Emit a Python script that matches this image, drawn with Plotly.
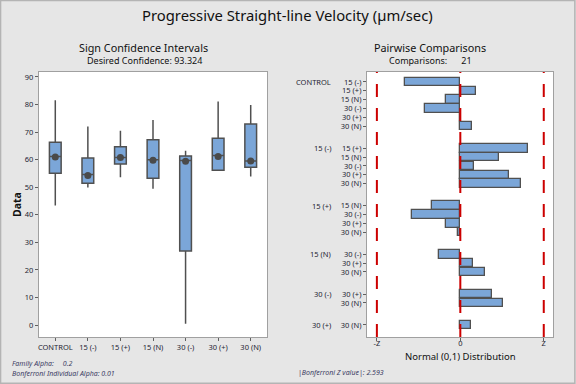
import plotly.graph_objects as go

# ---------------- data ----------------
groups = ["CONTROL", "15 (-)", "15 (+)", "15 (N)", "30 (-)", "30 (+)", "30 (N)"]

# Sign confidence intervals (left panel)
upper = [81.6, 72.0, 70.5, 74.4, 63.2, 81.1, 79.8]
q3 = [66.3, 60.6, 64.7, 67.2, 61.3, 67.8, 72.9]
median = [61.2, 54.6, 60.8, 60.0, 59.7, 61.5, 59.5]
q1 = [55.1, 51.5, 58.4, 53.3, 26.9, 56.2, 57.3]
lower = [43.4, 49.9, 53.6, 49.5, 0.5, 56.2, 53.9]
means = [61.0, 54.3, 60.8, 59.8, 59.4, 61.2, 59.5]

# Pairwise comparisons (right panel), pairs in order (i<j)
z_values = [
    -1.73, 0.475, -0.456, -1.11, -0.02, 0.36,   # CONTROL vs ...
    2.09, 1.19, 0.44, 1.51, 1.87,               # 15 (-) vs ...
    -0.88, -1.50, -0.46, -0.07,                 # 15 (+) vs ...
    -0.67, 0.38, 0.77,                          # 15 (N) vs ...
    0.97, 1.33,                                 # 30 (-) vs ...
    0.33,                                       # 30 (+) vs ...
]
bonf_z = 2.593
family_alpha = 0.2
indiv_alpha = 0.01
desired_conf = 93.324

W, H = 576, 384
BG = "#e6e6e6"
BOXFILL = "#7ba6d8"
EDGE = "#505050"
TXT = "#1e1e34"
RED = "#cc0000"
FONT = "Noto Sans"

def px(x):
    return x / W

def py(y):
    return 1 - y / H

fig = go.Figure()

# ---------------- left panel ----------------
fig.add_trace(go.Box(
    x=groups, q1=q1, median=median, q3=q3, lowerfence=lower, upperfence=upper,
    fillcolor=BOXFILL, line=dict(color=EDGE, width=1.5), whiskerwidth=0,
    width=0.36, boxpoints=False, xaxis="x", yaxis="y", showlegend=False,
    hoverinfo="skip",
))
fig.add_trace(go.Scatter(
    x=groups, y=means, mode="markers",
    marker=dict(symbol="circle", size=7, color="#4a4a4a",
                line=dict(color="#4a4a4a", width=0)),
    xaxis="x", yaxis="y", showlegend=False, hoverinfo="skip",
))

# ---------------- right panel ----------------
ypos, ticktext, group_first = [], [], []
k = 0.0
for i in range(len(groups)):
    first = True
    for j in range(i + 1, len(groups)):
        ypos.append(k)
        ticktext.append(groups[j])
        if first:
            group_first.append((groups[i], k))
            first = False
        k += 1
    k += 1.5
last_row = ypos[-1]

fig.add_trace(go.Bar(
    x=z_values, y=ypos, orientation="h", width=0.96,
    marker=dict(color=BOXFILL, line=dict(color=EDGE, width=1.3)),
    xaxis="x2", yaxis="y2", showlegend=False, hoverinfo="skip",
))

for xv in (-bonf_z, 0, bonf_z):
    fig.add_shape(type="line", xref="x2", yref="y2 domain", x0=xv, x1=xv, y0=0, y1=1,
                  line=dict(color=RED, width=2, dash="13px,11px"), layer="above")

for name, yv in group_first:
    fig.add_annotation(x=px(333), y=yv, xref="paper", yref="y2", text=name,
                       showarrow=False, xanchor="right", yanchor="middle",
                       font=dict(family=FONT, size=7.5, color=TXT))

dom_y = [py(337), py(72)]
tickf = dict(size=7.5, color=TXT)
fig.update_layout(
    width=W, height=H, margin=dict(l=0, r=0, t=0, b=0),
    paper_bgcolor=BG, plot_bgcolor="white",
    font=dict(family=FONT, color=TXT),
    xaxis=dict(domain=[px(39), px(267)], type="category", range=[-0.5, 6.5],
               showgrid=False, zeroline=False, showline=True, mirror=True,
               linecolor="#a0a0a0", linewidth=1.2, ticks="outside", ticklen=3,
               tickcolor="#606060", tickfont=tickf),
    yaxis=dict(domain=dom_y, range=[-4.3, 91.8], tickvals=list(range(0, 91, 10)),
               showgrid=False, zeroline=False, showline=True, mirror=True,
               linecolor="#a0a0a0", linewidth=1.2, ticks="outside", ticklen=3,
               tickcolor="#606060", tickfont=tickf),
    xaxis2=dict(domain=[px(367), px(553)], range=[-2.9, 2.88], anchor="y2",
                tickvals=[-bonf_z, 0, bonf_z], ticktext=["-Z", "0", "Z"],
                showgrid=False, zeroline=False, showline=True, mirror=True,
                linecolor="#a0a0a0", linewidth=1.2, ticks="outside", ticklen=3,
                tickcolor="#606060", tickfont=tickf, ticklabelstandoff=-4),
    yaxis2=dict(domain=dom_y, range=[last_row + 1.36, -1.13], anchor="x2",
                tickvals=ypos, ticktext=ticktext,
                showgrid=False, zeroline=False, showline=True, mirror=True,
                linecolor="#a0a0a0", linewidth=1.2, ticks="outside", ticklen=3,
                tickcolor="#606060", tickfont=tickf),
    bargap=0,
)

# titles & notes
def note(x, y, text, size, color="#111", anchor="center", angle=0):
    fig.add_annotation(x=px(x), y=py(y), xref="paper", yref="paper", text=text,
                       showarrow=False, font=dict(size=size, color=color),
                       xanchor=anchor, yanchor="middle", textangle=angle)

note(287, 15, "Progressive Straight-line Velocity (µm/sec)", 14.8)
note(143, 47, "Sign Confidence Intervals", 10.8)
note(144, 60, f"Desired Confidence: {desired_conf}", 9)
note(430, 47, "Pairwise Comparisons", 10.8)
note(430, 60, f"Comparisons:&nbsp;&nbsp;&nbsp;&nbsp;&nbsp;&nbsp;{len(z_values)}", 9)
note(17, 205, "<b>Data</b>", 10.5, angle=-90)
note(460, 356, "Normal (0,1) Distribution", 9.5)
note(10, 363, f"<i>Family Alpha:&nbsp;&nbsp;&nbsp;&nbsp;&nbsp;{family_alpha}</i>", 7,
     "#3c3c64", "left")
note(10, 373, f"<i>Bonferroni Individual Alpha: {indiv_alpha}</i>", 7, "#3c3c64", "left")
note(296, 372, f"<i>|Bonferroni Z value|: {bonf_z}</i>", 7, "#3c3c64", "left")

# figure border
fig.add_shape(type="rect", xref="paper", yref="paper", x0=0.001, x1=0.998, y0=0.002, y1=0.999,
              line=dict(color="#b4b4b4", width=1.5), fillcolor="rgba(0,0,0,0)", layer="below")

fig.write_html("out.html", config={"displayModeBar": False},
               post_script="document.body.style.margin='0';document.body.style.padding='0';")
